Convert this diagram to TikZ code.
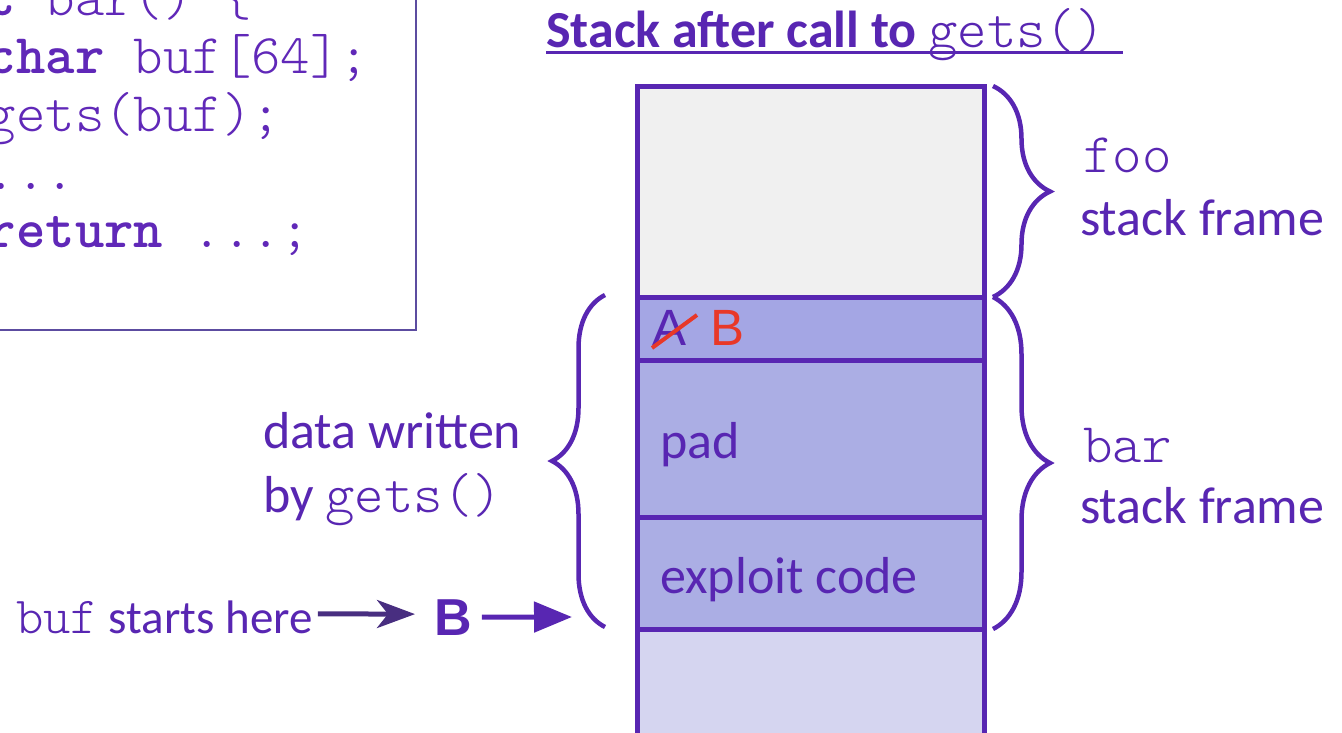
\documentclass[tikz,border=0pt]{standalone}
\usepackage{fontspec}
\setmainfont{Carlito}
\setmonofont[BoldFont=lmmonolt10-bold.otf]{lmmonolt10-regular.otf}
\newfontfamily\arialfont{Liberation Sans}
\usepackage[]{xcolor}
\usetikzlibrary{decorations.pathreplacing}
\usetikzlibrary{arrows.meta}

\definecolor{stackpurple}{RGB}{88,38,178}
\definecolor{codepurple}{RGB}{96,40,184}
\definecolor{arrowdark}{RGB}{72,46,128}
\definecolor{boxline}{RGB}{92,76,160}
\definecolor{topgray}{RGB}{240,240,240}
\definecolor{rowret}{RGB}{164,166,228}
\definecolor{rowpad}{RGB}{171,174,228}
\definecolor{rowlow}{RGB}{213,213,240}
\definecolor{strikered}{RGB}{232,56,40}

\newcommand{\bigtxt}{\fontsize{52}{62}\selectfont}
\newcommand{\codetxt}{\fontsize{56}{58}\selectfont\ttfamily}
\newcommand{\notetxt}{\fontsize{47}{54}\selectfont}

\tikzset{
  txt/.style={anchor=base west,inner sep=0pt,stackpurple},
  cellline/.style={draw=stackpurple,line width=5pt},
  bracedeco/.style={decorate,decoration={brace,amplitude=#1},stackpurple,line width=4.5pt},
}

\begin{document}
\begin{tikzpicture}[x=1pt,y=-1pt]
            \useasboundingbox (0,0) rectangle (1342,732);
            \clip (0,0) rectangle (1342,732);
            % code box, cut off by the page
            \draw[boxline,line width=2pt] (-30,-30) rectangle (416,330);
            \node[txt,codepurple,align=left,font=\codetxt] (code) at (-72,247)
            {\textbf{int} bar() \{\\
             \hphantom{ab}\textbf{char} buf[64];\\
             \hphantom{ab}gets(buf);\\
             \hphantom{ab}...\\
             \hphantom{ab}\textbf{return} ...;};
            % title
            \node[txt] (title) at (546,47) {\bigtxt\bfseries Stack after call to {\codetxt\mdseries gets()}};
            \draw[stackpurple,line width=3pt] (546,52) -- (1123,52);
            % stack
            \fill[topgray] (637,86) rectangle (984,297);
            \fill[rowret] (637,297) rectangle (984,360);
            \fill[rowpad] (637,360) rectangle (984,629);
            \fill[rowlow] (637,629) rectangle (984,745);
            \draw[cellline] (637,745) -- (637,86) -- (984,86) -- (984,745);
            \draw[cellline] (637,297) -- (984,297);
            \draw[cellline] (637,360) -- (984,360);
            \draw[cellline] (637,517) -- (984,517);
            \draw[cellline] (637,629) -- (984,629);
            \node[txt,font=\fontsize{51}{60}\selectfont\arialfont] (olda) at (652,345) {A};
            \node[txt,strikered,font=\fontsize{51}{60}\selectfont\arialfont] (newb) at (710,345) {B};
            \draw[strikered,line width=4pt] (652,348) -- (697,315);
            \node[txt,font=\bigtxt] (pad) at (660,458) {pad};
            \node[txt,font=\bigtxt] (exploit) at (660,593) {exploit code};
            % braces
            \draw[bracedeco=57pt] (993,86) -- (993,297);
            \draw[bracedeco=57pt] (993,297) -- (993,629);
            \draw[bracedeco=53pt] (605,627) -- (605,295);
            \node[txt,font=\codetxt] (foo) at (1083,172) {foo};
            \node[txt,font=\bigtxt] (foosf) at (1080,235) {stack frame};
            \node[txt,font=\codetxt] (bar) at (1083,462) {bar};
            \node[txt,font=\bigtxt] (barsf) at (1080,523) {stack frame};
            \node[txt,font=\bigtxt] (written) at (263,448) {data written};
            \node[txt,font=\bigtxt] (bygets) at (263,512) {by {\codetxt gets()}};
            % buf pointer
            \node[txt,font=\notetxt] (bufnote) at (16,633) {{\fontsize{52}{54}\selectfont\ttfamily buf} starts here};
            \node[txt,font=\fontsize{52}{62}\selectfont\arialfont\bfseries] (bnode) at (434,635) {B};
            \coordinate (bufpos) at (572,617);
            \draw[arrowdark,line width=5pt,-{Stealth[length=38pt,width=28pt,inset=11pt]}]
            ([xshift=5pt,yshift=3pt]bufnote.east) -- ([xshift=-19pt,yshift=3pt]bnode.west);
            \draw[stackpurple,line width=5pt,-{Triangle[length=38pt,width=30pt]}]
            ([xshift=10pt]bnode.east) -- (bufpos);
        \end{tikzpicture}
\end{document}
